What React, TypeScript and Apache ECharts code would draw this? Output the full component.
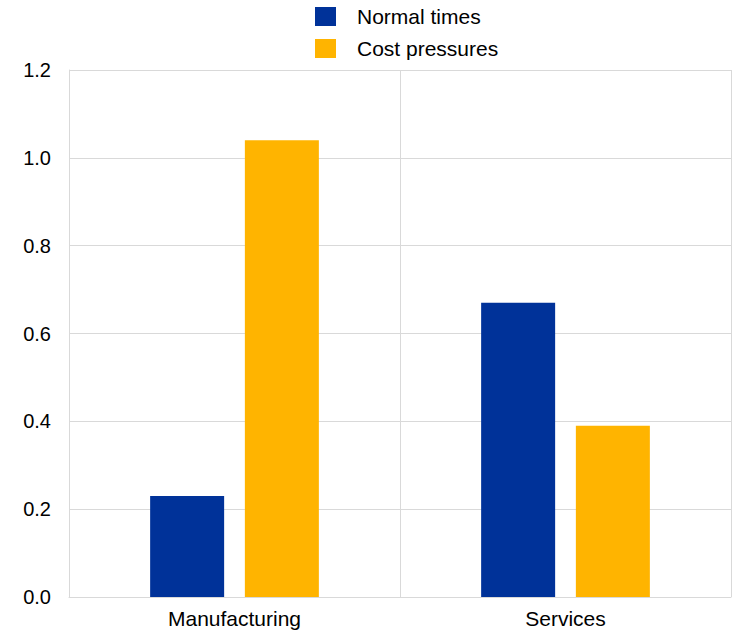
import React, { useEffect, useRef } from "react";
import * as echarts from "echarts";

const categories = ["Manufacturing", "Services"];
const normalTimes = [0.23, 0.67];
const costPressures = [1.04, 0.39];
const seriesNames = ["Normal times", "Cost pressures"];

export default function App() {
  const ref = useRef<HTMLDivElement>(null);
  useEffect(() => {
    document.body.style.margin = "0";
    const chart = echarts.init(ref.current!, null, { renderer: "svg" });
    const font = "Arial, 'Liberation Sans', sans-serif";
    chart.setOption({
      animation: false,
      legend: {
        orient: "vertical",
        left: 315,
        top: 6,
        padding: 0,
        itemWidth: 21,
        itemHeight: 19,
        itemGap: 11,
        icon: "rect",
        textStyle: {
          fontSize: 21,
          lineHeight: 19,
          fontFamily: font,
          color: "#000",
          padding: [0, 0, 0, 16],
        },
        data: seriesNames,
      },
      grid: { left: 69, right: 5, top: 70, bottom: 36, containLabel: false },
      xAxis: {
        type: "category",
        data: categories,
        boundaryGap: true,
        axisLine: { show: true, lineStyle: { color: "#d9d9d9", width: 1 } },
        axisTick: { show: false },
        splitLine: { show: true, lineStyle: { color: "#d9d9d9", width: 1 } },
        axisLabel: { fontSize: 21, fontFamily: font, color: "#000", margin: 11 },
      },
      yAxis: {
        type: "value",
        min: 0,
        max: 1.2,
        interval: 0.2,
        axisLine: { show: true, lineStyle: { color: "#d9d9d9", width: 1 } },
        axisTick: { show: false },
        splitLine: { show: true, lineStyle: { color: "#d9d9d9", width: 1 } },
        axisLabel: {
          fontSize: 20,
          fontFamily: font,
          color: "#000",
          margin: 18,
          formatter: (v: number) => v.toFixed(1),
        },
      },
      series: [
        {
          name: seriesNames[0],
          type: "bar",
          data: normalTimes,
          barWidth: 74,
          barGap: "28%",
          itemStyle: { color: "#003299" },
        },
        {
          name: seriesNames[1],
          type: "bar",
          data: costPressures,
          barWidth: 74,
          itemStyle: { color: "#FFB400" },
        },
      ],
    });
    return () => chart.dispose();
  }, []);
  return <div ref={ref} style={{ width: 736, height: 633 }} />;
}
